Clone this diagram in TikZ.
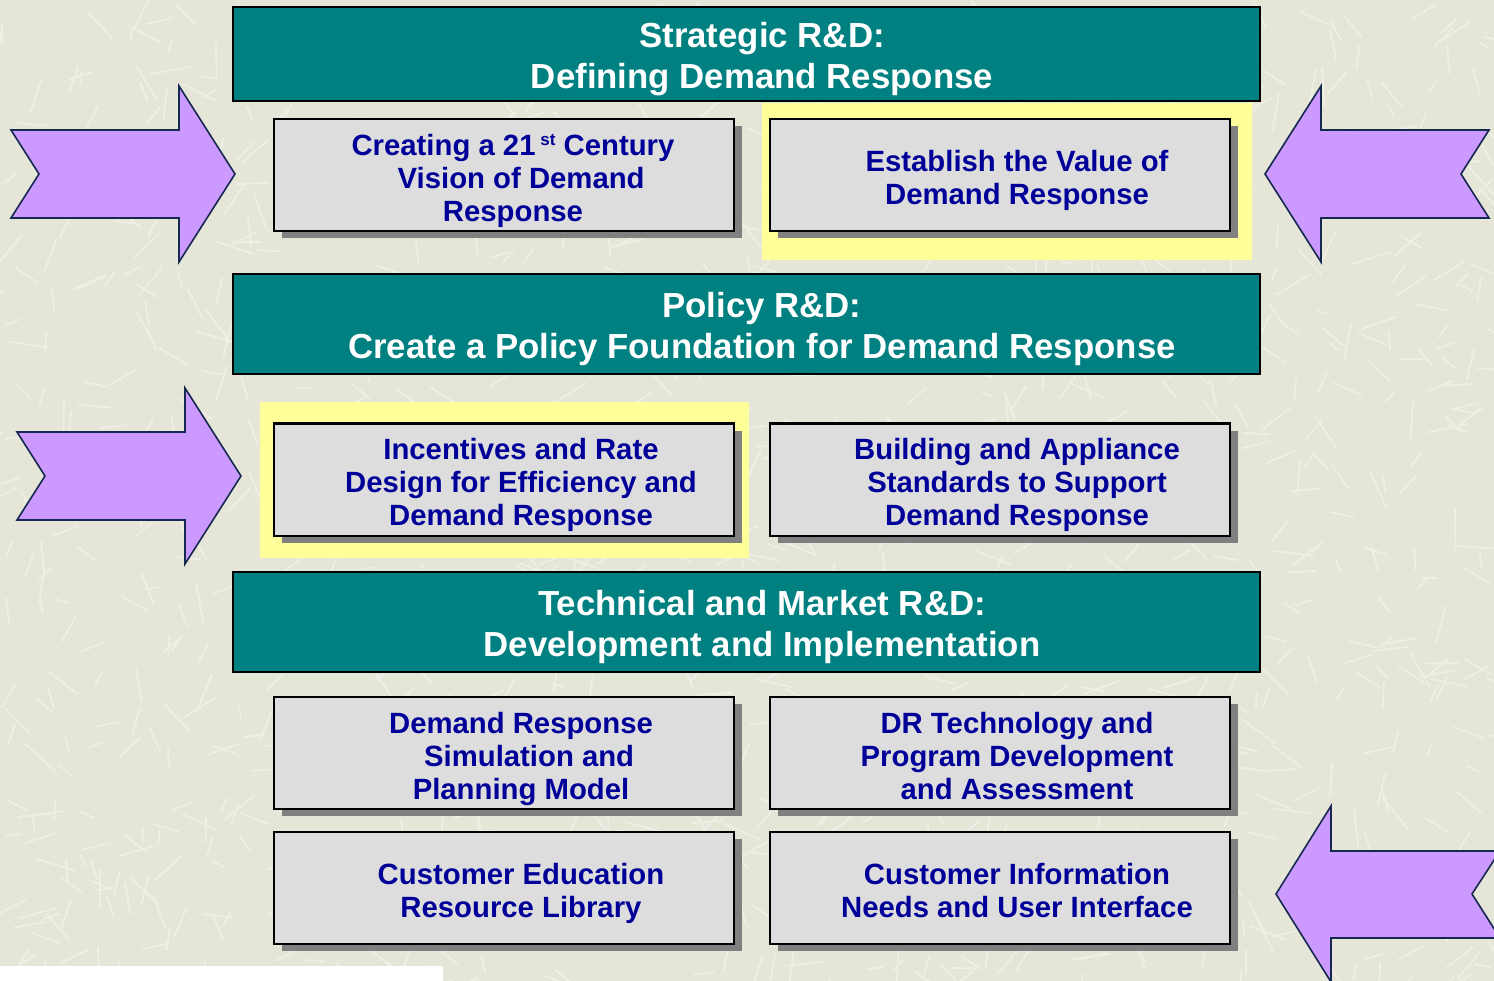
\documentclass[tikz,border=0pt]{standalone}
\usepackage{fontspec}
\setmainfont{Liberation Sans}
\usetikzlibrary{shadows}
\definecolor{bgbeige}{RGB}{229,229,216}
\definecolor{bgstreak}{RGB}{239,239,229}
\definecolor{headteal}{RGB}{0,128,128}
\definecolor{boxgray}{RGB}{221,221,221}
\definecolor{shadegray}{RGB}{128,128,128}
\definecolor{hiyellow}{RGB}{255,255,153}
\definecolor{textnavy}{RGB}{0,0,153}
\definecolor{arrowfill}{RGB}{204,153,255}
\definecolor{arrowline}{RGB}{20,40,80}
\begin{document}
\begin{tikzpicture}[x=1pt,y=-1pt,
  header/.style={draw=black, line width=2pt, fill=headteal, inner sep=0pt,
    minimum width=1027pt},
  headertext/.style={text=white, font=\fontsize{34.8}{41}\selectfont\bfseries,
    align=center, inner sep=0pt, xshift=16pt, yshift=-5pt},
  topicbox/.style={draw=black, line width=2pt, fill=boxgray, inner sep=0pt,
    minimum width=460pt, minimum height=112pt,
    drop shadow={shadow xshift=8pt, shadow yshift=-7pt, fill=shadegray, opacity=1}},
  topictext/.style={text=textnavy, font=\fontsize{29.3}{33}\selectfont\bfseries,
    align=center, inner sep=0pt, xshift=17pt, yshift=-5.5pt},
  bigarrow/.style={fill=arrowfill, draw=arrowline, line width=1.6pt, line join=miter}]

% canvas
\clip (0,0) rectangle (1494,981);
\fill[bgbeige] (0,0) rectangle (1494,981);
% paper texture: short pale streaks
\pgfmathsetseed{4711}
\foreach \i in {1,...,1300}{
  \pgfmathsetmacro{\sx}{random(0,1494)}
  \pgfmathsetmacro{\sy}{random(0,981)}
  \pgfmathsetmacro{\sa}{random(0,179)}
  \pgfmathsetmacro{\sl}{random(12,40)}
  \draw[bgstreak, line width=1.8pt, line cap=round]
    (\sx,\sy) -- ++({\sl*cos(\sa)},{\sl*sin(\sa)});
}
\fill[white] (0,966) rectangle (443,981);

% highlight panels
\fill[hiyellow] (762,103) rectangle (1252,260);
\fill[hiyellow] (260,402) rectangle (749,558);

% side arrows
\draw[bigarrow] (11,130) -- (179,130) -- (179,86) -- (235,174) -- (179,262)
  -- (179,218) -- (11,218) -- (39,174) -- cycle;
\draw[bigarrow] (17,432) -- (185,432) -- (185,388) -- (241,476) -- (185,564)
  -- (185,520) -- (17,520) -- (45,476) -- cycle;
\draw[bigarrow] (1489,130) -- (1321,130) -- (1321,86) -- (1265,174) -- (1321,262)
  -- (1321,218) -- (1489,218) -- (1461,174) -- cycle;
\draw[bigarrow] (1500,851) -- (1331,851) -- (1331,806) -- (1276,894) -- (1331,982)
  -- (1331,938) -- (1500,938) -- (1472,894) -- cycle;

% section headers
\node[header, minimum height=94pt] (strategic) at (746,54) {};
\node[headertext] (strategic-t) at (strategic.center) {Strategic R\&D:\\Defining Demand Response};
\node[header, minimum height=100pt] (policy) at (746,324) {};
\node[headertext] (policy-t) at (policy.center) {Policy R\&D:\\Create a Policy Foundation for Demand Response};
\node[header, minimum height=100pt] (technical) at (746,622) {};
\node[headertext] (technical-t) at (technical.center) {Technical and Market R\&D:\\Development and Implementation};

% topic boxes
\node[topicbox] (vision) at (504,175) {};
\node[topictext, xshift=-8pt] (vision-t) at (vision.center)
  {Creating a 21\,\raisebox{0.6ex}{\fontsize{17}{17}\selectfont st} Century\\\ \ Vision of Demand\\Response};
\node[topicbox] (value) at (1000,175) {};
\node[topictext] (value-t) at (value.center) {Establish the Value of\\Demand Response};
\node[topicbox] (incentives) at (504,479.5) {};
\node[topictext] (incentives-t) at (incentives.center) {Incentives and Rate\\Design for Efficiency and\\Demand Response};
\node[topicbox] (standards) at (1000,479.5) {};
\node[topictext] (standards-t) at (standards.center) {Building and Appliance\\Standards to Support\\Demand Response};
\node[topicbox] (simulation) at (504,753) {};
\node[topictext] (simulation-t) at (simulation.center) {Demand Response\\\ \ Simulation and\\Planning Model};
\node[topicbox] (technology) at (1000,753) {};
\node[topictext, yshift=2pt] (technology-t) at (technology.center) {DR Technology and\\Program Development\\and Assessment};
\node[topicbox] (education) at (504,887.5) {};
\node[topictext] (education-t) at (education.center) {Customer Education\\Resource Library};
\node[topicbox] (information) at (1000,887.5) {};
\node[topictext, yshift=2pt] (information-t) at (information.center) {Customer Information\\Needs and User Interface};
\end{tikzpicture}
\end{document}
